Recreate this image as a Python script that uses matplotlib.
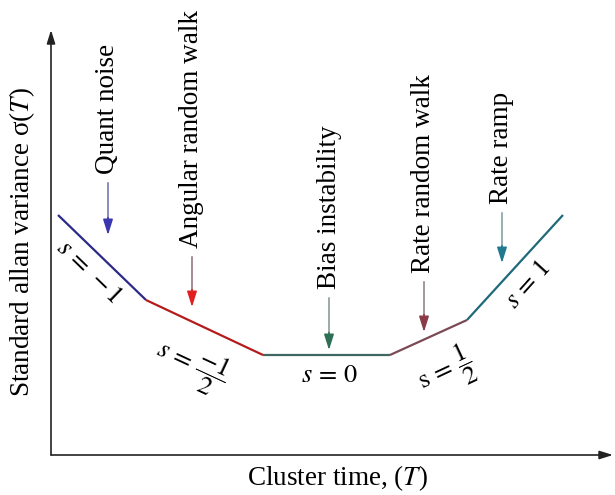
import numpy as np
import matplotlib
matplotlib.use("Agg")
import matplotlib.pyplot as plt

plt.rcParams['font.family'] = ['Liberation Serif', 'DejaVu Serif']
plt.rcParams['mathtext.fontset'] = 'stix'

# corner points of the piecewise log-log curve (arbitrary decade units)
log_tau = [0.14, 1.9, 4.24, 6.78, 8.32, 10.24]
log_sigma = [4.8, 3.1, 2.0, 2.0, 2.7, 4.8]
seg_colors = ['#2c2a88', '#b41c1c', '#3f6660', '#7a4a55', '#1f6a7a']

# noise terms: name, arrow x, arrow tail y, arrow tip y
noise_names = ['Quant noise', 'Angular random walk', 'Bias instability',
               'Rate random walk', 'Rate ramp']
arrow_x = [1.14, 2.82, 5.56, 7.46, 9.02]
arrow_tail = [5.44, 3.96, 3.14, 3.46, 4.84]
arrow_tip = [4.40, 2.96, 2.10, 2.46, 3.84]
shaft_colors = ['#6e6ca8', '#8a6e72', '#7f968e', '#8a7a80', '#7a98a2']
head_colors = ['#3a36b0', '#e02020', '#2e7055', '#8a3a48', '#1f7a90']

# slope labels
slope_text = [r'$s\,=\,-1$', r'$s\,=\,\dfrac{-1}{2}$', r'$s\,=\,0$',
              r'$\mathrm{s}\,=\,\dfrac{1}{2}$', r'$s\,=\,1$']
slope_x = [0.74, 2.80, 5.56, 7.90, 9.54]
slope_y = [3.66, 1.78, 1.58, 1.66, 3.40]
slope_rot = [-44, -25, 0, 25, 48]

fig = plt.figure(figsize=(6.15, 4.95), dpi=100)
ax = fig.add_axes([51 / 615, 40 / 495, 562 / 615, 425 / 495])
ax.set_xlim(0, 11.24)
ax.set_ylim(0, 8.5)
ax.set_axis_off()

# axes drawn as arrows
ax.annotate('', xy=(1, 0), xytext=(0, 0), xycoords='axes fraction',
            arrowprops=dict(arrowstyle='-|>,head_length=0.8,head_width=0.25',
                            color='#222222', lw=1.2, shrinkA=0, shrinkB=0))
ax.annotate('', xy=(0, 1), xytext=(0, 0), xycoords='axes fraction',
            arrowprops=dict(arrowstyle='-|>,head_length=0.8,head_width=0.25',
                            color='#222222', lw=1.2, shrinkA=0, shrinkB=0))

for i in range(len(seg_colors)):
    ax.plot(log_tau[i:i + 2], log_sigma[i:i + 2], color=seg_colors[i],
            lw=1.6, solid_capstyle='butt')

for i in range(len(noise_names)):
    ax.plot([arrow_x[i], arrow_x[i]], [arrow_tail[i], arrow_tip[i] + 0.3],
            color=shaft_colors[i], lw=1.1)
    ax.annotate('', xy=(arrow_x[i], arrow_tip[i]),
                xytext=(arrow_x[i], arrow_tip[i] + 0.35),
                arrowprops=dict(arrowstyle='-|>,head_length=0.95,head_width=0.3',
                                color=head_colors[i], lw=1.1,
                                shrinkA=0, shrinkB=0))
    ax.text(arrow_x[i], arrow_tail[i] + 0.18, noise_names[i], rotation=90,
            ha='center', va='bottom', fontsize=19.5)

for i in range(len(slope_text)):
    ax.text(slope_x[i], slope_y[i], slope_text[i], rotation=slope_rot[i],
            rotation_mode='anchor', ha='center', va='center', fontsize=19)

ax.text(-0.052, 0.5, r'Standard allan variance σ($T$)', rotation=90,
        transform=ax.transAxes, ha='center', va='center', fontsize=19.5)
ax.text(0.51, -0.054, r'Cluster time, ($T$)', transform=ax.transAxes,
        ha='center', va='center', fontsize=19.5)

fig.savefig('out.png', dpi=100)
